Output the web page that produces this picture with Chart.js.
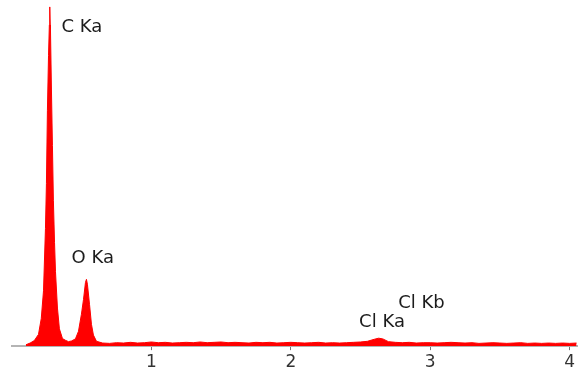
<!DOCTYPE html>
<html>
<head>
<meta charset="utf-8">
<script src="https://cdn.jsdelivr.net/npm/chart.js@4/dist/chart.umd.min.js"></script>
<style>
    html, body { margin: 0; padding: 0; background: #fff; overflow: hidden; }
    canvas { display: block; }
</style>
</head>
<body>
<canvas class="chart" width="579" height="376"></canvas>
<script>
// spectrum (keV, counts in arbitrary units)
const energy = [
    0.10, 0.13, 0.16, 0.19, 0.21, 0.226, 0.24, 0.247, 0.254, 0.262, 0.268, 0.271, 0.274, 0.276,
    0.283, 0.29, 0.297, 0.305, 0.312, 0.326, 0.34, 0.362, 0.383, 0.405, 0.427, 0.455,
    0.477, 0.498, 0.513, 0.527, 0.534, 0.541, 0.556, 0.57, 0.584, 0.606, 0.65,
    0.70, 0.75, 0.80, 0.85, 0.90, 0.95, 1.00, 1.05, 1.10, 1.15, 1.20, 1.25, 1.30, 1.35, 1.40,
    1.45, 1.50, 1.55, 1.60, 1.65, 1.70, 1.75, 1.80, 1.85, 1.90, 1.95, 2.00, 2.05, 2.10, 2.15,
    2.20, 2.25, 2.30, 2.35, 2.40, 2.45, 2.50, 2.55, 2.60, 2.63, 2.66, 2.70, 2.75, 2.80, 2.85,
    2.90, 2.95, 3.00, 3.05, 3.10, 3.15, 3.20, 3.25, 3.30, 3.35, 3.40, 3.45, 3.50, 3.55, 3.60,
    3.65, 3.70, 3.75, 3.80, 3.85, 3.90, 3.95, 4.00, 4.05
];
const counts = [
    4, 9, 16, 34, 80, 160, 340, 470, 680, 840, 928, 980, 928, 914,
    740, 580, 420, 300, 215, 110, 50, 22, 17, 13, 15, 21,
    43, 92, 135, 184, 193, 179, 121, 63, 32, 14, 9,
    8, 10, 9, 11, 9, 10, 12, 10, 11, 9, 10, 11, 10, 12, 10,
    11, 12, 10, 11, 10, 9, 11, 10, 11, 9, 10, 11, 10, 9, 10,
    11, 9, 10, 9, 10, 11, 12, 14, 20, 23, 21, 13, 11, 10, 11,
    9, 10, 10, 9, 10, 11, 10, 9, 10, 8, 9, 10, 9, 8, 9,
    10, 8, 9, 8, 9, 8, 9, 8, 9
];

const tickValues = [1, 2, 3, 4];

const peakNames = ["C Ka", "O Ka", "Cl Ka", "Cl Kb"];
const peakLabelE = [0.355, 0.427, 2.49, 2.77];
const peakLabelC = [922, 254, 69, 125];

const peakLabels = {
    id: 'peakLabels',
    afterDatasetsDraw(chart) {
        const ctx = chart.ctx;
        const x = chart.scales.x;
        const y = chart.scales.y;
        ctx.save();
        ctx.font = '18px "DejaVu Sans", Verdana, sans-serif';
        ctx.fillStyle = '#1c1c1c';
        ctx.textBaseline = 'middle';
        ctx.textAlign = 'left';
        for (let i = 0; i < peakNames.length; i++) {
            ctx.fillText(peakNames[i], x.getPixelForValue(peakLabelE[i]), y.getPixelForValue(peakLabelC[i]));
        }
        ctx.restore();
    }
};

const chart = document.querySelector('.chart');

new Chart(chart, {
    type: "line",
    data: {
        datasets: [{
            data: energy.map((e, i) => ({ x: e, y: counts[i] })),
            borderColor: "#ff0000",
            backgroundColor: "#ff0000",
            borderWidth: 1,
            pointRadius: 0,
            tension: 0,
            fill: "origin",
        }]
    },
    options: {
        responsive: false,
        animation: false,
        layout: { padding: { left: 12, right: 0, top: 0, bottom: 0 } },
        plugins: {
            legend: { display: false },
            tooltip: { enabled: false },
        },
        scales: {
            x: {
                type: "linear",
                min: 0,
                max: 4.06,
                afterBuildTicks: axis => {
                    axis.ticks = tickValues.map(v => ({ value: v }));
                },
                grid: {
                    display: true,
                    drawOnChartArea: false,
                    drawTicks: true,
                    tickLength: 4,
                    color: "#777",
                },
                border: { display: true, color: "#b4b4b4", width: 2 },
                ticks: {
                    padding: 4,
                    color: "#333",
                    maxRotation: 0,
                    font: { family: '"DejaVu Sans", Verdana, sans-serif', size: 17, lineHeight: 1.05 },
                },
            },
            y: {
                display: false,
                min: 0,
                max: 1000,
            }
        }
    },
    plugins: [peakLabels],
});
</script>
</body>
</html>
